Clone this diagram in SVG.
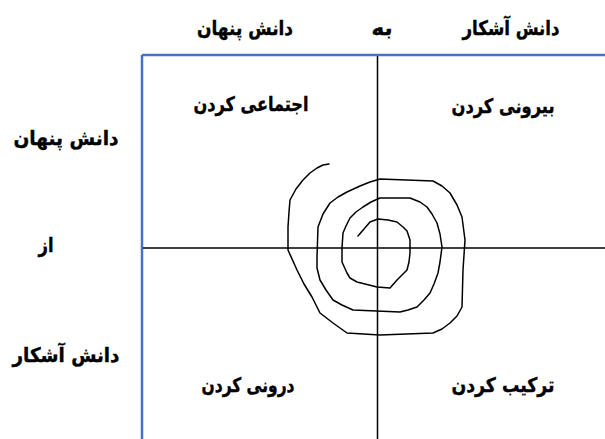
<svg xmlns="http://www.w3.org/2000/svg" width="605" height="439" viewBox="0 0 605 439">
<style>
.t{font-family:"DejaVu Sans","Noto Sans",sans-serif;font-weight:bold;font-size:20px;fill:#000;stroke:#000;stroke-width:0.4;text-anchor:middle;dominant-baseline:central}
.axis{stroke:#000;stroke-width:1.5;fill:none}
.frame{stroke:#4472C4;stroke-width:2.5;fill:none}
</style>
<rect width="605" height="439" fill="#fff"/>
<g id="connectors">
<line class="frame" x1="142" y1="55" x2="605" y2="55"/>
<line class="frame" x1="142" y1="55" x2="142" y2="439"/>
<line class="axis" x1="377.5" y1="56" x2="377.5" y2="439"/>
<line class="axis" x1="143" y1="248" x2="605" y2="248"/>
<path id="spiral" fill="none" stroke="#000" stroke-width="1.5" stroke-linejoin="round" stroke-linecap="round" d="M358,236 L364,229 L370,222 L378,219 L388,220 L397,222 L403,227 L407,231 L410,240 L410,253 L409,262 L407,270 L402,275 L397,280 L390,288 L377,287 L357,282 L350,278 L347,273 L342,262 L342,248 L343,233 L346,226 L350,218 L356,212 L363,207 L371,202 L380,198 L410,198 L420,202 L427,207 L432,214 L437,223 L440,234 L442,247 L440,262 L438,273 L434,284 L430,293 L424,300 L417,307 L408,310 L400,312 L353,310 L342,305 L333,300 L326,290 L320,280 L317,268 L317,257 L318,227 L323,214 L330,203 L338,197 L347,192 L360,186 L370,182 L380,179 L433,181 L442,186 L450,193 L457,205 L462,217 L465,240 L463,270 L462,307 L457,316 L450,323 L442,329 L433,333 L380,335 L347,333 L333,323 L320,313 L312,297 L304,284 L297,270 L288,250 L288,227 L289,212 L290,200 L296,189 L303,180 L310,173 L317,168 L323,165 L329,164"/>
</g>
<g id="top-tacit"><text class="t" x="245" y="28" textLength="96" lengthAdjust="spacingAndGlyphs">دانش پنهان</text></g>
<g id="top-to"><text class="t" x="382" y="28" textLength="21" lengthAdjust="spacingAndGlyphs">به</text></g>
<g id="top-explicit"><text class="t" x="511" y="28" textLength="97" lengthAdjust="spacingAndGlyphs">دانش آشکار</text></g>
<g id="left-tacit"><text class="t" x="66" y="138" textLength="105" lengthAdjust="spacingAndGlyphs">دانش پنهان</text></g>
<g id="left-from"><text class="t" x="46" y="245" textLength="15" lengthAdjust="spacingAndGlyphs">از</text></g>
<g id="left-explicit"><text class="t" x="66" y="355" textLength="107" lengthAdjust="spacingAndGlyphs">دانش آشکار</text></g>
<g id="socialization"><text class="t" x="251" y="104" textLength="115" lengthAdjust="spacingAndGlyphs">اجتماعی کردن</text></g>
<g id="externalization"><text class="t" x="503" y="106" textLength="103" lengthAdjust="spacingAndGlyphs">بیرونی کردن</text></g>
<g id="internalization"><text class="t" x="248" y="385" textLength="93" lengthAdjust="spacingAndGlyphs">درونی کردن</text></g>
<g id="combination"><text class="t" x="503" y="385" textLength="103" lengthAdjust="spacingAndGlyphs">ترکیب کردن</text></g>
</svg>
